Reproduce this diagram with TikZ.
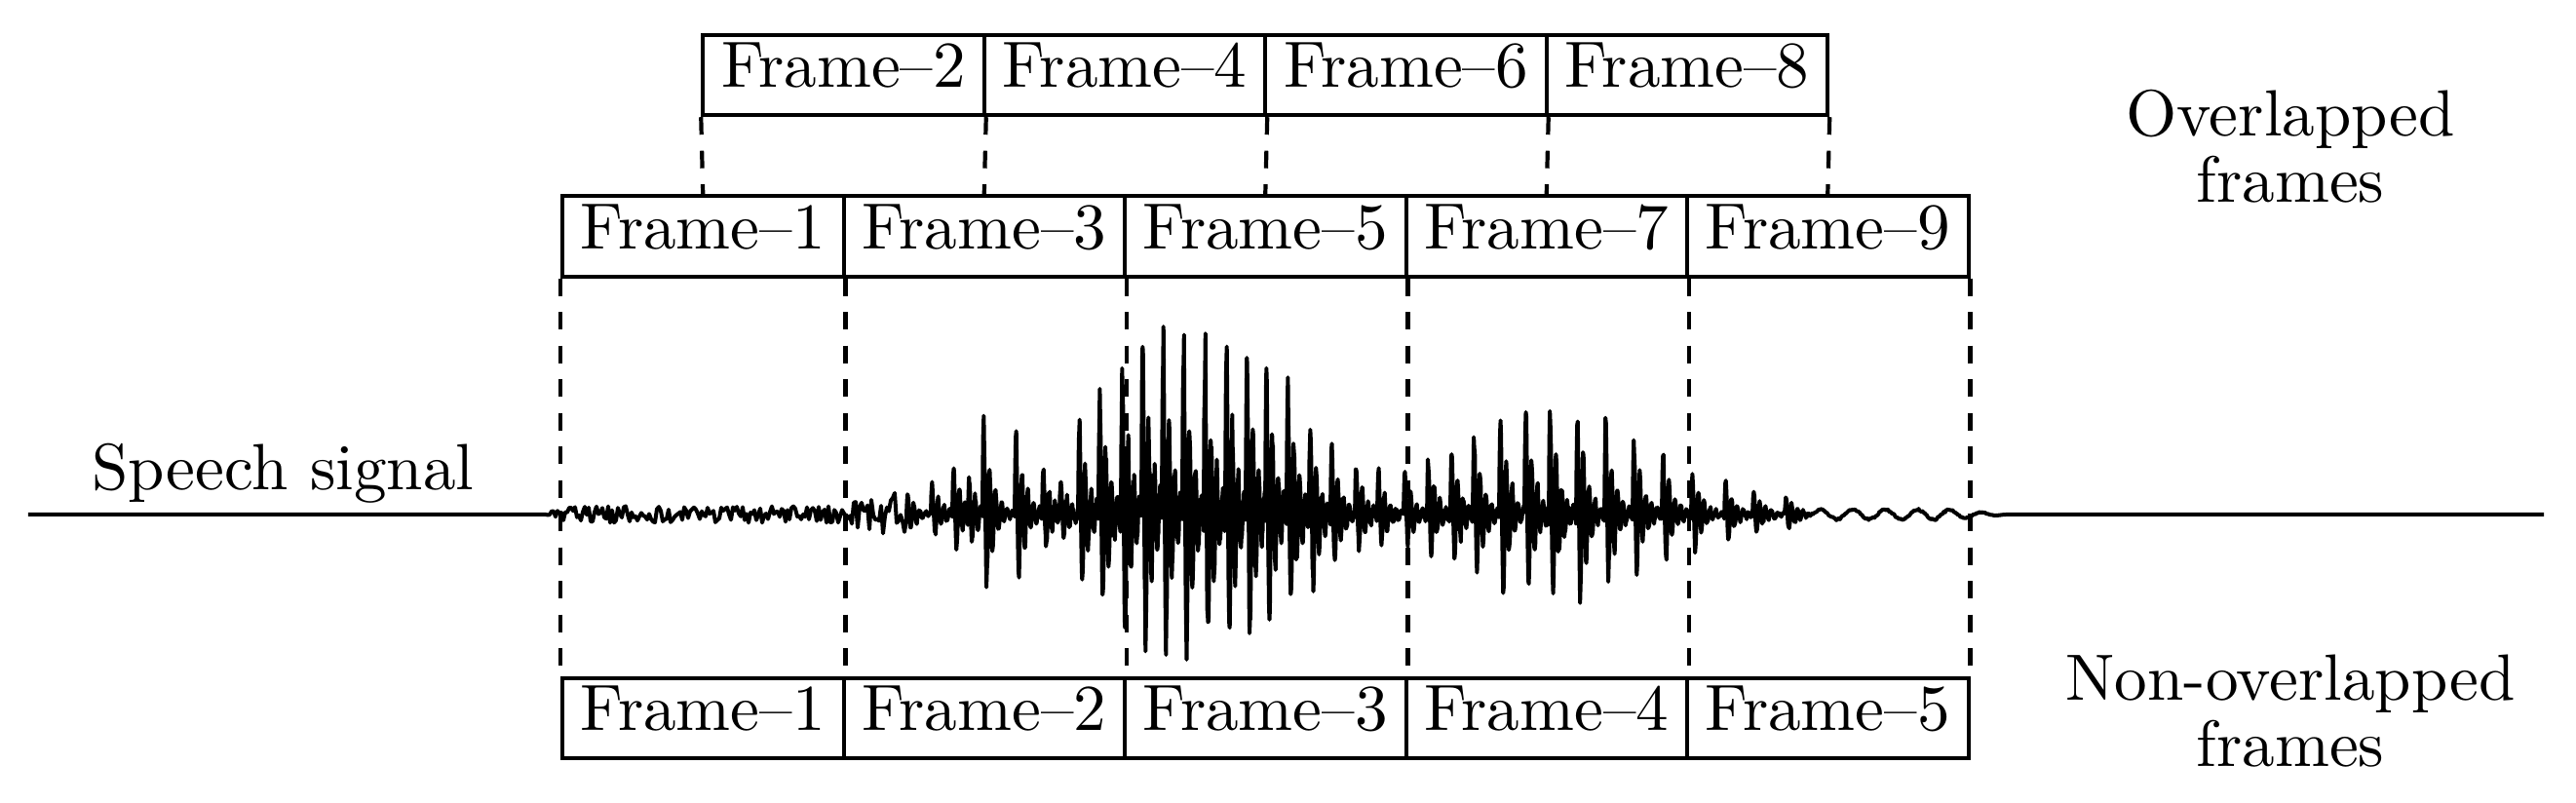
\documentclass[tikz,border=0pt]{standalone}
\newcommand\ftxt[1]{\scalebox{1.91}{\fontsize{10}{10.2}\selectfont #1}}
\tikzset{
  framebox/.style={draw, line width=0.04cm, minimum width=2.885cm, minimum height=0.825cm,
    inner sep=0pt, text height=0.45cm, text depth=0.19cm},
  guide/.style={line width=0.042cm, dash pattern=on 0.18cm off 0.165cm},
  sidetext/.style={font=\fontsize{10}{10.2}\selectfont, align=center, inner sep=0pt,
    scale=1.91, transform shape},
  signal/.style={line width=0.04cm, line join=round},
}
\begin{document}
\begin{tikzpicture}
\useasboundingbox (0,0) rectangle (26.43,8.24);
\pgfmathsetseed{7}
% overlapped frames, upper row
\node[framebox] (t2) at (8.655,7.47)  {\ftxt{Frame\textendash 2}};
\node[framebox] (t4) at (11.54,7.47)  {\ftxt{Frame\textendash 4}};
\node[framebox] (t6) at (14.425,7.47) {\ftxt{Frame\textendash 6}};
\node[framebox] (t8) at (17.31,7.47)  {\ftxt{Frame\textendash 8}};
% overlapped frames, lower row
\node[framebox] (o1) at (7.2125,5.815)  {\ftxt{Frame\textendash 1}};
\node[framebox] (o3) at (10.0975,5.815) {\ftxt{Frame\textendash 3}};
\node[framebox] (o5) at (12.9825,5.815) {\ftxt{Frame\textendash 5}};
\node[framebox] (o7) at (15.8675,5.815) {\ftxt{Frame\textendash 7}};
\node[framebox] (o9) at (18.7525,5.815) {\ftxt{Frame\textendash 9}};
% non-overlapped frames
\node[framebox] (n1) at (7.2125,0.87)  {\ftxt{Frame\textendash 1}};
\node[framebox] (n2) at (10.0975,0.87) {\ftxt{Frame\textendash 2}};
\node[framebox] (n3) at (12.9825,0.87) {\ftxt{Frame\textendash 3}};
\node[framebox] (n4) at (15.8675,0.87) {\ftxt{Frame\textendash 4}};
\node[framebox] (n5) at (18.7525,0.87) {\ftxt{Frame\textendash 5}};
% labels
\node[sidetext, anchor=base] (speech) at (2.905,3.21) {Speech signal};
\node[sidetext, anchor=base] (over) at (23.50,6.16) {Overlapped\\frames};
\node[sidetext, anchor=base] (nonover) at (23.50,0.37) {Non-overlapped\\frames};
% signal
\coordinate (sigL) at (0.29,2.96);
\coordinate (sigR) at (26.10,2.96);
\draw[signal] (sigL) -- (5.60,2.96)
  -- plot[domain=560:930, samples=186]
     ({\x/100}, {2.96 + (min(1,(\x-560)/15)*(8.5+max(0,\x-850)*0.2)*rand)/100})
  \foreach \pa/\pu/\pp in {930/20/25, 955/30/22, 977/45/16, 993/35/15, 1008/93/33,
     1041/85/28, 1069/45/18, 1087/35/19, 1106/91/21, 1127/131/23, 1150/151/21,
     1171/173/21, 1192/170/21, 1213/180/22, 1235/175/22, 1257/165/21, 1278/161/20,
     1298/145/22, 1320/131/23, 1343/95/22, 1365/74/25, 1390/53/23, 1413/43/27,
     1440/41/24, 1464/53/24, 1488/66/23, 1511/82/27, 1538/104/26, 1564/104/25,
     1589/111/28, 1617/110/29, 1646/88/29, 1675/75/30, 1705/60/30, 1735/45/34,
     1769/33/29, 1798/26/33, 1831/19/29}
  { -- plot[domain=0:\pp, samples=50]
     ({(\pa+\x)/100}, {2.96 + (\pu/0.85*exp(-\x/9)*sin(60*\x)*(1+0.12*rand)
        + 0.12*\pu*exp(-\x/15)*rand + 2.5*rand)/100}) }
  -- plot[domain=1860:2060, samples=200]
     ({\x/100}, {2.96 + (min(1,(2060-\x)/60)*(5*sin((\x-1860)*10.9)+rand))/100})
  -- (sigR);
% guide lines
\draw[guide] (t2.south west) -- (o1.north);
\draw[guide] (t2.south east) -- (o3.north);
\draw[guide] (t4.south east) -- (o5.north);
\draw[guide] (t6.south east) -- (o7.north);
\draw[guide] (t8.south east) -- (o9.north);
\draw[guide] (o1.south west) -- (n1.north west);
\draw[guide] (o1.south east) -- (n1.north east);
\draw[guide] (o3.south east) -- (n2.north east);
\draw[guide] (o5.south east) -- (n3.north east);
\draw[guide] (o7.south east) -- (n4.north east);
\draw[guide] (o9.south east) -- (n5.north east);
\end{tikzpicture}
\end{document}
